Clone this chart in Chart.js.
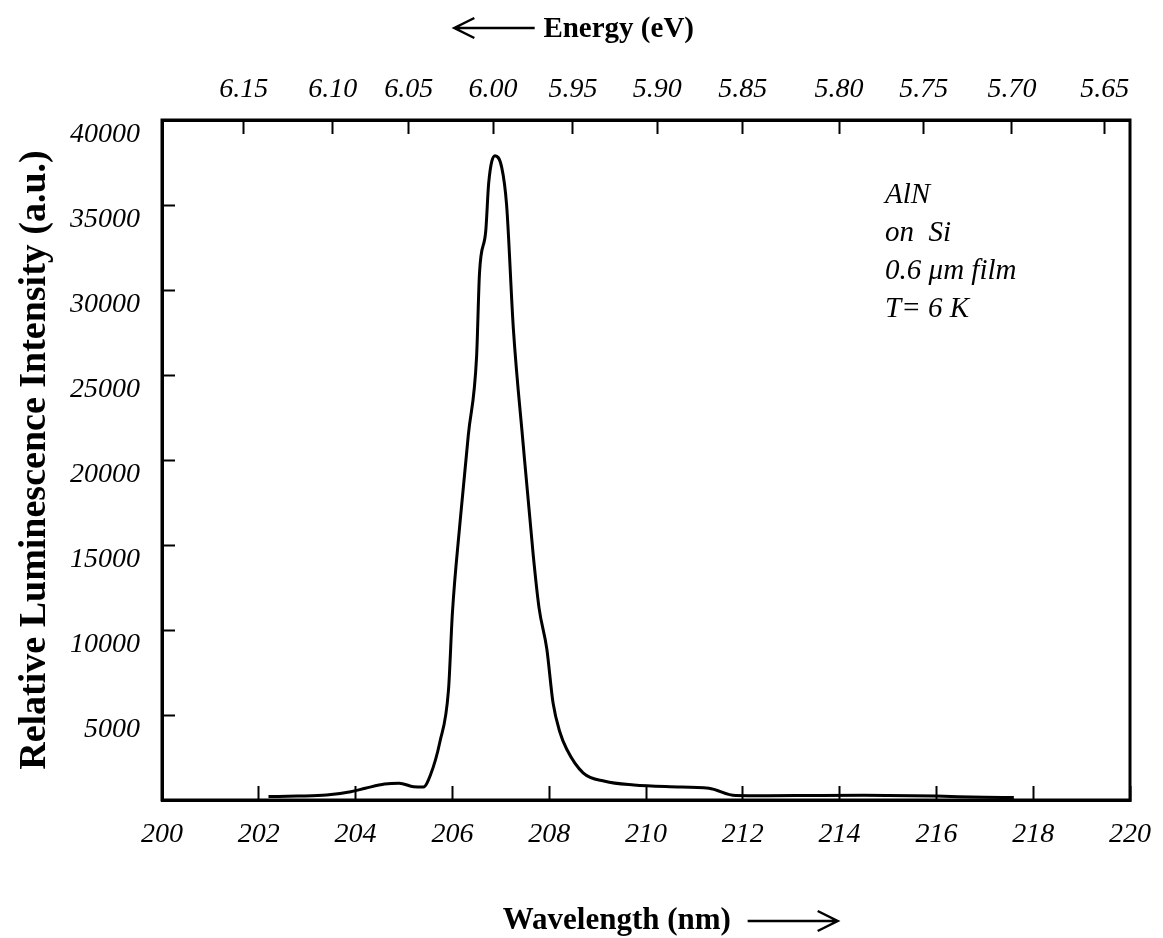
<!DOCTYPE html>
<html>
<head>
<meta charset="utf-8">
<script src="https://cdn.jsdelivr.net/npm/chart.js@4.4.0/dist/chart.umd.min.js"></script>
<style>
  html, body { margin: 0; padding: 0; background: #fff; }
</style>
</head>
<body>
<canvas id="plChart" width="1163" height="938"></canvas>
<script>
// --- DATA ---
const wavelength = [202.2, 202.8, 203.4, 203.9, 204.2, 204.6, 204.9, 205.2, 205.4, 205.55,
  205.74, 205.92, 206.0, 206.16, 206.33, 206.5, 206.56, 206.69, 206.75, 206.88,
  207.02, 207.12, 207.26, 207.46, 207.67, 207.79, 207.95, 208.08, 208.22, 208.36,
  208.7, 209.15, 209.75, 210.5, 211.3, 211.85, 212.5, 213.5, 214.5, 215.0,
  216.0, 217.0, 217.6];
const intensity = [200, 230, 290, 490, 690, 940, 990, 780, 760, 1500,
  3400, 6500, 11000, 16400, 21500, 26100, 31000, 33500, 36300, 37900,
  37200, 35000, 27700, 21000, 14400, 11300, 8900, 5700, 4000, 3000,
  1600, 1100, 880, 780, 690, 260, 250, 270, 280, 270,
  230, 160, 150];

const wavelengthTicks = [200, 202, 204, 206, 208, 210, 212, 214, 216, 218, 220];
const intensityTicks = [5000, 10000, 15000, 20000, 25000, 30000, 35000, 40000];
// top axis: energy labels and where their ticks sit on the wavelength scale (nm)
const energyTicks = [6.15, 6.10, 6.05, 6.00, 5.95, 5.90, 5.85, 5.80, 5.75, 5.70, 5.65];
const energyTickNm = [201.69, 203.53, 205.10, 206.84, 208.49, 210.23, 212.00, 213.99, 215.74, 217.56, 219.48];
const sampleNotes = ["AlN", "on  Si", "0.6 \u03bcm film", "T= 6 K"];

const SERIF = '"Liberation Serif", "Times New Roman", serif';

// --- FRAME, NOTES AND ARROWED AXIS TITLES ---
function drawArrow(ctx, tailX, tipX, y) {
  const dir = tipX > tailX ? 1 : -1;
  ctx.beginPath();
  ctx.moveTo(tailX, y);
  ctx.lineTo(tipX, y);
  ctx.moveTo(tipX - dir * 20, y - 10);
  ctx.lineTo(tipX, y);
  ctx.lineTo(tipX - dir * 20, y + 10);
  ctx.stroke();
}

const decorPlugin = {
  id: 'decor',
  afterDraw(chart) {
    const { ctx, chartArea: a } = chart;
    const w = a.right - a.left;
    ctx.save();
    ctx.strokeStyle = '#000';
    ctx.fillStyle = '#000';
    ctx.lineWidth = 3;
    ctx.strokeRect(a.left, a.top, w, a.bottom - a.top);

    // sample notes
    ctx.font = 'italic 29px ' + SERIF;
    ctx.textBaseline = 'middle';
    ctx.textAlign = 'left';
    sampleNotes.forEach((t, i) => ctx.fillText(t, a.left + w * 0.747, a.top + 75 + i * 38));

    // bottom title
    ctx.font = 'bold 31px ' + SERIF;
    ctx.fillText('Wavelength (nm)', a.left + w * 0.352, 921);
    ctx.lineWidth = 2.5;
    drawArrow(ctx, a.left + w * 0.605, a.left + w * 0.698, 921);

    // top title
    ctx.font = 'bold 29px ' + SERIF;
    ctx.fillText('Energy (eV)', a.left + w * 0.394, 30);
    drawArrow(ctx, a.left + w * 0.385, a.left + w * 0.302, 28);
    ctx.restore();
  }
};

const tickFont = { family: SERIF, size: 28, style: 'italic' };

new Chart(document.getElementById('plChart'), {
  type: 'line',
  data: {
    datasets: [{
      data: wavelength.map((x, i) => ({ x, y: intensity[i] })),
      borderColor: '#000',
      borderWidth: 3,
      pointRadius: 0,
      cubicInterpolationMode: 'monotone',
      fill: false
    }]
  },
  options: {
    responsive: false,
    animation: false,
    layout: { padding: { left: 0, right: 33, top: 0, bottom: 0 } },
    plugins: { legend: { display: false }, tooltip: { enabled: false } },
    scales: {
      x: {
        type: 'linear', position: 'bottom', min: 200, max: 220,
        afterBuildTicks: axis => { axis.ticks = wavelengthTicks.map(v => ({ value: v })); },
        afterFit: s => { s.height = 138; s.paddingLeft = 0; s.paddingRight = 0; },
        border: { display: true, color: '#000', width: 3 },
        grid: { drawOnChartArea: false, tickLength: -14, tickWidth: 2, tickColor: '#000' },
        ticks: { font: tickFont, color: '#000', padding: 32, maxRotation: 0, autoSkip: false }
      },
      x2: {
        type: 'linear', position: 'top', min: 200, max: 220,
        afterBuildTicks: axis => { axis.ticks = energyTickNm.map(v => ({ value: v })); },
        afterFit: s => { s.height = 120; s.paddingLeft = 0; s.paddingRight = 0; },
        border: { display: true, color: '#000', width: 3 },
        grid: { drawOnChartArea: false, tickLength: -14, tickWidth: 2, tickColor: '#000' },
        ticks: {
          font: tickFont, color: '#000', padding: 28, maxRotation: 0, autoSkip: false,
          callback: (v, i) => energyTicks[i].toFixed(2)
        }
      },
      y: {
        type: 'linear', position: 'left', min: 0, max: 40000,
        afterBuildTicks: axis => { axis.ticks = intensityTicks.map(v => ({ value: v })); },
        afterFit: s => { s.width = 162; s.paddingTop = 0; s.paddingBottom = 0; },
        border: { display: true, color: '#000', width: 3 },
        grid: { drawOnChartArea: false, tickLength: -13, tickWidth: 2, tickColor: '#000' },
        ticks: { font: tickFont, color: '#000', padding: 35, labelOffset: 15, callback: v => String(v) },
        title: {
          display: true,
          text: 'Relative Luminescence Intensity (a.u.)',
          color: '#000',
          font: { family: SERIF, size: 38, weight: 'bold' },
          padding: { top: 12, bottom: 0 }
        }
      }
    }
  },
  plugins: [decorPlugin]
});
</script>
</body>
</html>
